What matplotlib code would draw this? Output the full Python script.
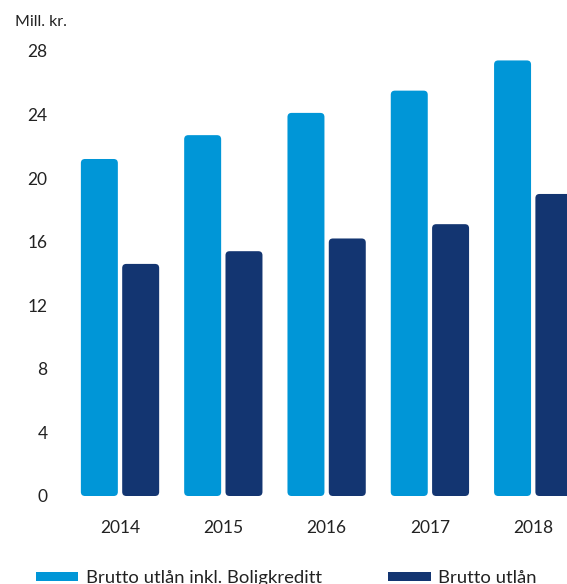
import matplotlib
matplotlib.use("Agg")
import matplotlib.pyplot as plt
from matplotlib.patches import FancyBboxPatch, Rectangle
import numpy as np

# Brutto utlån per år (mill. kr.)
years = ['2014', '2015', '2016', '2017', '2018']
inkl_boligkreditt = [21.2, 22.7, 24.1, 25.5, 27.4]
brutto_utlan = [14.6, 15.4, 16.2, 17.1, 19.0]
y_ticks = [0, 4, 8, 12, 16, 20, 24, 28]

light_blue = '#0096D7'
navy = '#133571'
text_color = '#222222'

plt.rcParams['font.family'] = ['Lato', 'DejaVu Sans']

W, H = 567, 584
fig = plt.figure(figsize=(W / 100, H / 100), dpi=100)
ax = fig.add_axes([60 / W, 88 / H, 507 / W, 461 / H])

x = np.arange(len(years))
width = 0.358
offset = 0.2

bars1 = ax.bar(x - offset, inkl_boligkreditt, width, color=light_blue)
bars2 = ax.bar(x + offset, brutto_utlan, width, color=navy)

ax.set_xlim(-0.581, 4.327)
ax.set_ylim(0, 29)

# swap the plain rectangles for rounded ones
rx = 0.04
aspect = 0.26 / rx
for bars in (bars1, bars2):
    for r in bars:
        r.set_visible(False)
        p = FancyBboxPatch((r.get_x(), r.get_y()), r.get_width(), r.get_height(),
                           boxstyle=f'round,pad=0,rounding_size={rx}',
                           mutation_aspect=aspect, facecolor=r.get_facecolor(),
                           edgecolor='none', clip_on=True)
        ax.add_patch(p)

ax.set_xticks(x)
ax.set_xticklabels(years)
ax.set_yticks(y_ticks)
ax.tick_params(axis='x', length=0, pad=17, labelsize=12.5, labelcolor=text_color)
ax.tick_params(axis='y', length=0, pad=9, labelsize=12.5, labelcolor=text_color)
for s in ax.spines.values():
    s.set_visible(False)

fig.text(15 / W, 1 - 22 / H, 'Mill. kr.', fontsize=11.5, color=text_color,
         ha='left', va='center')

handles = [Rectangle((0, 0), 1, 1, facecolor=light_blue, edgecolor='none'),
           Rectangle((0, 0), 1, 1, facecolor=navy, edgecolor='none')]
labels = ['Brutto utlån inkl. Boligkreditt', 'Brutto utlån']
fig.legend(handles, labels, loc='center left',
           bbox_to_anchor=(36 / W, 1 - 578 / H), ncol=2, frameon=False,
           fontsize=13.3, handlelength=2.3, handleheight=0.35,
           handletextpad=0.4, columnspacing=3.6, borderpad=0,
           borderaxespad=0, labelcolor=text_color)

fig.savefig('out.png', dpi=100)
